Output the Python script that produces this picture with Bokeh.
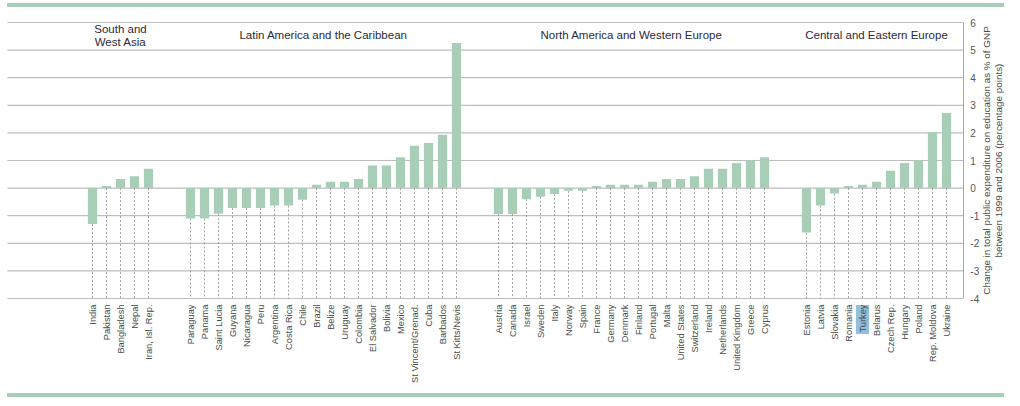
import math
from bokeh.plotting import figure
from bokeh.models import ColumnDataSource, FixedTicker, Range1d, Div
from bokeh.layouts import column
from bokeh.core.properties import value
from bokeh.embed import file_html
from bokeh.resources import INLINE

# ---------------- data ----------------
groups = ["South and\nWest Asia", "Latin America and the Caribbean",
          "North America and Western Europe", "Central and Eastern Europe"]

swa_names = ["India", "Pakistan", "Bangladesh", "Nepal", "Iran, Isl. Rep."]
swa_vals = [-1.30, 0.08, 0.33, 0.43, 0.70]

la_names = ["Paraguay", "Panama", "Saint Lucia", "Guyana", "Nicaragua", "Peru",
            "Argentina", "Costa Rica", "Chile", "Brazil", "Belize", "Uruguay",
            "Colombia", "El Salvador", "Bolivia", "Mexico", "St Vincent/Grenad.",
            "Cuba", "Barbados", "St Kitts/Nevis"]
la_vals = [-1.10, -1.10, -0.93, -0.72, -0.72, -0.72, -0.63, -0.63, -0.42, 0.12,
           0.23, 0.23, 0.33, 0.82, 0.82, 1.12, 1.53, 1.63, 1.93, 5.26]

na_names = ["Austria", "Canada", "Israel", "Sweden", "Italy", "Norway", "Spain",
            "France", "Germany", "Denmark", "Finland", "Portugal", "Malta",
            "United States", "Switzerland", "Ireland", "Netherlands",
            "United Kingdom", "Greece", "Cyprus"]
na_vals = [-0.94, -0.94, -0.40, -0.31, -0.21, -0.10, -0.10, 0.08, 0.12, 0.12,
           0.12, 0.23, 0.33, 0.33, 0.43, 0.70, 0.70, 0.91, 1.00, 1.12]

cee_names = ["Estonia", "Latvia", "Slovakia", "Romania", "Turkey", "Belarus",
             "Czech Rep.", "Hungary", "Poland", "Rep. Moldova", "Ukraine"]
cee_vals = [-1.61, -0.63, -0.20, 0.08, 0.12, 0.23, 0.63, 0.91, 1.00, 2.03, 2.72]

highlight = "Turkey"
y_ticks = [-4, -3, -2, -1, 0, 1, 2, 3, 4, 5, 6]
y_title_1 = "Change in total public expenditure on education as % of GNP"
y_title_2 = "between 1999 and 2006 (percentage points)"

# ---------------- layout / style constants ----------------
GREEN = "#a8ceb8"
GRID = "#bdbdbd"
FONT = "Liberation Sans"
GAP = 2              # empty slots between regions
W, H = 1004, 386     # figure size (frame covers the whole figure)
SLOT = 14.0          # px per category slot
FIRST_PX = 92        # px position of first category
PX_PER_UNIT = 27.6   # px per y unit
TOP_PX = 15          # px position of the top gridline

all_groups = [(swa_names, swa_vals), (la_names, la_vals),
              (na_names, na_vals), (cee_names, cee_vals)]
xs, names, vals, centers = [], [], [], []
pos = 0
for gnames, gvals in all_groups:
    start = pos
    for n, v in zip(gnames, gvals):
        xs.append(pos)
        names.append(n)
        vals.append(v)
        pos += 1
    centers.append((start + pos - 1) / 2)
    pos += GAP

Y_MIN, Y_MAX = min(y_ticks), max(y_ticks)
x_start = -FIRST_PX / SLOT
x_end = x_start + W / SLOT
y_end = Y_MAX + TOP_PX / PX_PER_UNIT
y_start = y_end - H / PX_PER_UNIT
AXIS_X = xs[-1] + 1.2
GRID_LEFT = x_start + 7 / SLOT

src = ColumnDataSource(dict(x=xs, top=vals, low=[min(v, 0) for v in vals],
                            bottom=[Y_MIN] * len(vals)))

p = figure(width=W, height=H, output_backend="svg", toolbar_location=None,
           title=None, x_range=Range1d(x_start, x_end),
           y_range=Range1d(y_start, y_end), y_axis_location="right",
           min_border=0)
p.outline_line_color = None
p.background_fill_color = "white"
p.border_fill_color = "white"
p.grid.visible = False

# horizontal gridlines, left edge to the value axis
p.segment(x0=[GRID_LEFT] * len(y_ticks), x1=[AXIS_X] * len(y_ticks),
          y0=y_ticks, y1=y_ticks, line_color=GRID, line_width=1.2)

# dashed leaders and bars
p.segment(x0="x", y0="low", x1="x", y1="bottom", source=src,
          line_color="#8c8c8c", line_width=0.8, line_dash="2 2")
p.vbar(x="x", top="top", bottom=0, width=0.66, source=src,
       fill_color=GREEN, line_color=None)

# highlight behind the Turkey label
hx = xs[names.index(highlight)]
p.rect(x=[hx], y=[Y_MIN - 21 / PX_PER_UNIT], width=13, height=29,
       width_units="screen", height_units="screen",
       fill_color="#93bedc", line_color=None)

# region headings
p.text(x=centers, y=[Y_MAX - 0.47] * len(centers), text=groups,
       text_align="center", text_baseline="middle",
       text_font=value(FONT), text_font_size="11.5px",
       text_color="#2a2a3a", text_line_height=1.1)

# country axis fixed on the -4 line
xa = p.xaxis[0]
xa.fixed_location = Y_MIN
xa.ticker = FixedTicker(ticks=xs)
xa.major_label_overrides = {x: n for x, n in zip(xs, names)}
xa.major_label_orientation = math.pi / 2
xa.major_label_text_font = FONT
xa.major_label_text_font_size = "9.3px"
xa.major_label_text_color = "#4a4a4a"
xa.major_label_standoff = 6
xa.major_tick_out = 0
xa.major_tick_in = 0
xa.minor_tick_out = 0
xa.minor_tick_in = 0
xa.axis_line_color = None

# value axis fixed right of the last bar
ya = p.yaxis[0]
ya.fixed_location = AXIS_X
ya.bounds = (Y_MIN, Y_MAX)
ya.ticker = FixedTicker(ticks=y_ticks)
ya.major_label_overrides = {t: str(t) for t in y_ticks}
ya.major_label_text_font = FONT
ya.major_label_text_font_size = "10px"
ya.major_label_text_color = "#555555"
ya.axis_line_color = "#aaaaaa"
ya.major_tick_out = 0
ya.major_tick_in = 0
ya.minor_tick_out = 0
ya.minor_tick_in = 0
ya.major_label_standoff = 7

# value-axis title (two lines, reading upwards)
ymid = (Y_MIN + Y_MAX) / 2
p.text(x=[AXIS_X + 23 / SLOT, AXIS_X + 35 / SLOT], y=[ymid, ymid],
       text=[y_title_1, y_title_2], angle=math.pi / 2,
       text_align="center", text_baseline="middle",
       text_font=value(FONT), text_font_size="9.9px", text_color="#4a4a4a")

top_band = Div(text="", width=W - 7, height=4, margin=(3, 0, 0, 7),
               styles={"background-color": GREEN})
bottom_band = Div(text="", width=W - 7, height=4, margin=(0, 0, 0, 7),
                  styles={"background-color": GREEN})
layout = column(top_band, p, bottom_band, spacing=0)

open("out.html", "w").write(file_html(layout, INLINE))
